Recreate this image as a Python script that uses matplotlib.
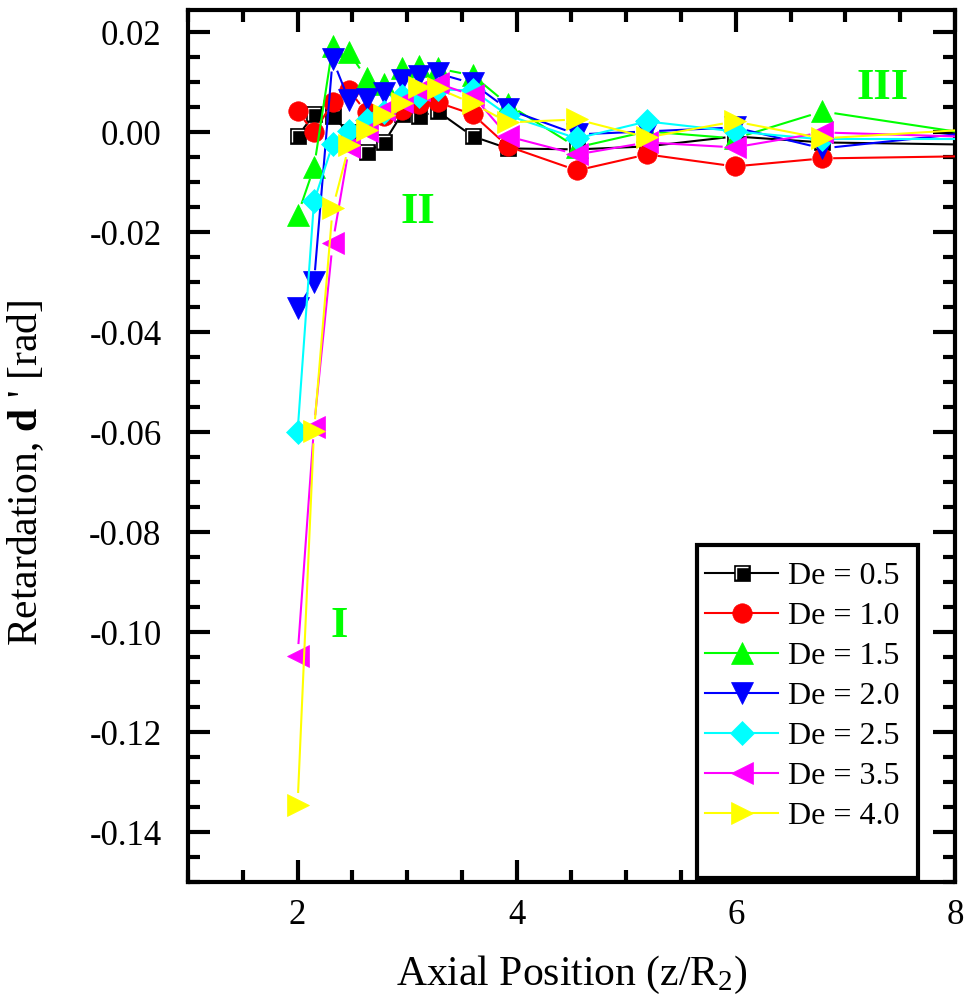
import matplotlib
matplotlib.use("Agg")
import matplotlib.pyplot as plt
import numpy as np
from matplotlib.collections import LineCollection
from matplotlib.legend_handler import HandlerTuple
from matplotlib.lines import Line2D
from matplotlib.patches import Rectangle
from matplotlib.path import Path
from matplotlib.ticker import FormatStrFormatter, MultipleLocator

plt.rcParams["font.family"] = "Liberation Serif"
plt.rcParams["mathtext.fontset"] = "custom"
plt.rcParams["mathtext.rm"] = "Liberation Serif"
plt.rcParams["mathtext.bf"] = "Liberation Serif:bold"
plt.rcParams["mathtext.it"] = "Liberation Serif:italic"
plt.rcParams["axes.unicode_minus"] = False

# axial positions z/R2 (last point lies past the right edge)
z_pos = [2.0, 2.15, 2.32, 2.47, 2.63, 2.79, 2.95, 3.11, 3.28, 3.6, 3.92, 4.55, 5.19, 5.99, 6.79, 8.6]

de_labels = ["De = 0.5", "De = 1.0", "De = 1.5", "De = 2.0", "De = 2.5", "De = 3.5", "De = 4.0"]

ret_de05 = [-0.0008, 0.0036, 0.0032, 0.0000, -0.0040, -0.0020, 0.0036, 0.0032, 0.0042, -0.0008,
            -0.0032, -0.0034, -0.0028, -0.0008, -0.0020, -0.0026]
ret_de10 = [0.0042, 0.0000, 0.0060, 0.0084, 0.0040, 0.0032, 0.0045, 0.0056, 0.0060, 0.0036,
            -0.0028, -0.0076, -0.0044, -0.0068, -0.0052, -0.0046]
ret_de15 = [-0.0166, -0.0070, 0.0172, 0.0160, 0.0108, 0.0096, 0.0128, 0.0132, 0.0128, 0.0114,
            0.0056, -0.0030, 0.0002, -0.0012, 0.0042, -0.0018]
ret_de20 = [-0.0352, -0.0300, 0.0146, 0.0064, 0.0066, 0.0078, 0.0104, 0.0112, 0.0118, 0.0098,
            0.0046, -0.0004, 0.0002, 0.0010, -0.0032, 0.0010]
ret_de25 = [-0.0600, -0.0138, -0.0024, 0.0002, 0.0024, 0.0040, 0.0072, 0.0072, 0.0086, 0.0084,
            0.0034, -0.0012, 0.0022, 0.0002, -0.0014, -0.0014]
ret_de35 = [-0.1048, -0.0590, -0.0222, -0.0030, 0.0002, 0.0044, 0.0060, 0.0084, 0.0098, 0.0074,
            -0.0008, -0.0044, -0.0020, -0.0030, 0.0000, -0.0012]
ret_de40 = [-0.1346, -0.0598, -0.0152, -0.0026, 0.0004, 0.0034, 0.0058, 0.0090, 0.0088, 0.0058,
            0.0020, 0.0026, -0.0010, 0.0022, -0.0012, 0.0012]

series = [ret_de05, ret_de10, ret_de15, ret_de20, ret_de25, ret_de35, ret_de40]
colors = ["#000000", "#ff0000", "#00ff00", "#0000ff", "#00ffff", "#ff00ff", "#ffff00"]
markers = ["s", "o", "^", "v", "D", "<", ">"]
msizes = [12, 14, 16, 16, 12, 16, 16]

# white corner highlight drawn inside the black square symbol
corner = Path([(-1, -1), (-1, 1), (1, 1)], [Path.MOVETO, Path.LINETO, Path.LINETO])

fig = plt.figure(figsize=(9.67, 9.98), dpi=100)
ax = fig.add_axes([0.1944, 0.1162, 0.7932, 0.8738])
ax.set_xlim(1, 8)
ax.set_ylim(-0.15, 0.0245)


def gapped_segments(x, y, gap):
    # shorten each connecting segment so it stops short of the symbols
    pts = ax.transData.transform(np.column_stack([x, y]))
    inv = ax.transData.inverted()
    segs = []
    for p0, p1 in zip(pts[:-1], pts[1:]):
        d = p1 - p0
        n = np.hypot(d[0], d[1])
        if n <= 2 * gap:
            continue
        u = d / n
        segs.append(inv.transform(np.array([p0 + u * gap, p1 - u * gap])))
    return segs


handles = []
for i, (vals, c, m, ms) in enumerate(zip(series, colors, markers, msizes)):
    gap = ms * fig.dpi / 72 / 2 + 1
    lc = LineCollection(gapped_segments(z_pos, vals, gap), colors=c, linewidths=1.5, zorder=2 + 2 * i)
    ax.add_collection(lc)
    ax.plot(z_pos, vals, linestyle="none", marker=m, ms=ms, mfc=c, mec=c, mew=0.5, zorder=3 + 2 * i)
    h = Line2D([], [], color=c, lw=1.5, marker=m, ms=ms, mfc=c, mec=c, mew=0.5)
    if m == "s":
        ax.plot(z_pos, vals, linestyle="none", marker=corner, ms=ms * 0.75, mfc="none", mec="white",
                mew=1.0, zorder=3 + 2 * i)
        hl = Line2D([], [], linestyle="none", marker=corner, ms=ms * 0.75, mfc="none", mec="white", mew=1.0)
        h = (h, hl)
    handles.append(h)

ax.text(2.38, -0.0988, "I", color="#00ff00", fontsize=32, fontweight="bold", ha="center", va="center")
ax.text(3.10, -0.0160, "II", color="#00ff00", fontsize=32, fontweight="bold", ha="center", va="center")
ax.text(7.34, 0.0088, "III", color="#00ff00", fontsize=32, fontweight="bold", ha="center", va="center")

ax.xaxis.set_major_locator(MultipleLocator(2))
ax.xaxis.set_minor_locator(MultipleLocator(0.5))
ax.yaxis.set_major_locator(MultipleLocator(0.02))
ax.yaxis.set_minor_locator(MultipleLocator(0.005))
ax.yaxis.set_major_formatter(FormatStrFormatter("%.2f"))
ax.tick_params(which="both", direction="in", top=True, right=True, width=3, labelsize=25)
ax.tick_params(which="major", length=16)
ax.tick_params(which="minor", length=8.5)
ax.tick_params(axis="x", pad=12)
ax.tick_params(axis="y", pad=19)
for spine in ax.spines.values():
    spine.set_linewidth(3)

ax.set_xlabel(r"Axial Position (z/R$_{2}$)", fontsize=30)
ax.set_ylabel(r"Retardation, $\mathbf{d}$ ' [rad]", fontsize=30)
ax.xaxis.set_label_coords(0.5, -0.082)
ax.yaxis.set_label_coords(-0.185, 0.469)

# legend box reaches nearly to the bottom axis, so the frame is drawn separately
box = Rectangle((0.664, 0.005), 0.288, 0.3815, transform=ax.transAxes, facecolor="white",
                edgecolor="black", linewidth=3, zorder=20)
ax.add_patch(box)
leg = ax.legend(handles, de_labels, loc="upper left", bbox_to_anchor=(0.674, 0.367), borderaxespad=0,
                fontsize=23, handlelength=2.3, handletextpad=0.3, labelspacing=0.33, borderpad=0,
                frameon=False, handler_map={tuple: HandlerTuple(ndivide=1)})
leg.set_zorder(21)

fig.savefig("out.png", dpi=100)
